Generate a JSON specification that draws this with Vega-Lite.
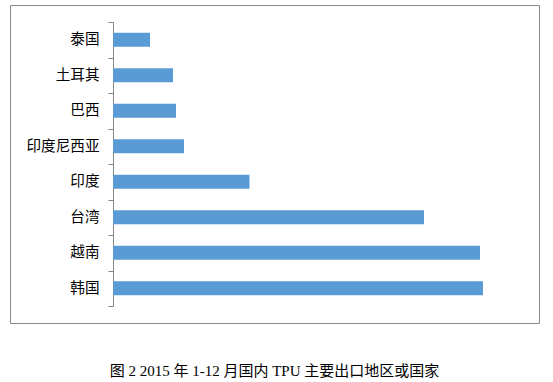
{
  "$schema": "https://vega.github.io/schema/vega-lite/v6.json",
  "autosize": {"type": "none"},
  "padding": {"left": 10, "top": 5, "right": 14, "bottom": 59},
  "width": 529,
  "height": 318,
  "background": "white",
  "config": {
    "view": {"stroke": "#898989", "strokeWidth": 1}
  },
  "title": {
    "text": "图 2 2015 年 1-12 月国内 TPU 主要出口地区或国家",
    "orient": "bottom",
    "anchor": "middle",
    "font": "Liberation Serif, Noto Sans CJK SC",
    "fontSize": 15,
    "fontWeight": "normal",
    "color": "#000000",
    "baseline": "top",
    "offset": 41
  },
  "data": {
    "values": [
      {"country": "泰国", "value": 3700},
      {"country": "土耳其", "value": 6000},
      {"country": "巴西", "value": 6300},
      {"country": "印度尼西亚", "value": 7100},
      {"country": "印度", "value": 13650},
      {"country": "台湾", "value": 31100},
      {"country": "越南", "value": 36700},
      {"country": "韩国", "value": 37000}
    ]
  },
  "mark": {"type": "bar", "color": "#5B9BD5", "height": {"band": 0.4}},
  "encoding": {
    "y": {
      "field": "country",
      "type": "nominal",
      "sort": null,
      "scale": {"range": [17, 301], "paddingInner": 0, "paddingOuter": 0},
      "axis": {
        "title": null,
        "offset": -103,
        "tickBand": "extent",
        "tickSize": 5,
        "tickColor": "#868686",
        "domainColor": "#868686",
        "labelPadding": 9,
        "labelFont": "Noto Sans CJK SC",
        "labelFontSize": 14.6,
        "labelColor": "#000000"
      }
    },
    "x": {
      "field": "value",
      "type": "quantitative",
      "scale": {"domain": [0, 40000], "range": [103, 503]},
      "axis": null
    }
  }
}
